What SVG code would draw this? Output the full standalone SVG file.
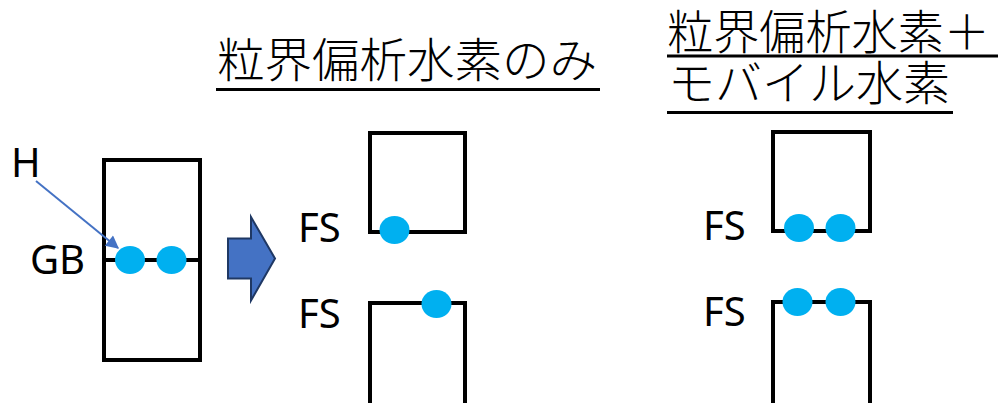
<svg xmlns="http://www.w3.org/2000/svg" width="1000" height="403" viewBox="0 0 1000 403">
  <style>
    .box { fill: none; stroke: #000; stroke-width: 4; }
    .h { fill: #00B0F0; }
    .lat { font-family: "Noto Sans", "Open Sans", sans-serif; font-size: 40px; fill: #000; }
    .jp { font-family: "Noto Sans CJK JP", sans-serif; font-size: 47px; font-weight: 300; fill: #000; }
    .ul { stroke: #000; stroke-width: 3; }
  </style>
  <defs>
    <marker id="ah" viewBox="0 0 10 10" refX="9" refY="5" markerWidth="7.5" markerHeight="6.5" orient="auto" markerUnits="strokeWidth">
      <path d="M0,0 L10,5 L0,10 z" fill="#4472C4"/>
    </marker>
  </defs>

  <g id="title-left">
    <text class="jp" x="217" y="77" textLength="380" lengthAdjust="spacingAndGlyphs">粒界偏析水素のみ</text>
    <line class="ul" x1="216" y1="89.5" x2="600" y2="89.5"/>
  </g>
  <g id="title-right">
    <text class="jp" x="667" y="49" textLength="323" lengthAdjust="spacingAndGlyphs">粒界偏析水素＋</text>
    <line class="ul" x1="667" y1="56" x2="998" y2="56"/>
    <text class="jp" x="668" y="100" textLength="282" lengthAdjust="spacingAndGlyphs">モバイル水素</text>
    <line class="ul" x1="667" y1="112.5" x2="953" y2="112.5"/>
  </g>

  <g id="grain">
    <rect class="box" x="104" y="160" width="96" height="200"/>
    <line class="box" x1="104" y1="260" x2="200" y2="260"/>
    <ellipse class="h" cx="130" cy="260" rx="15" ry="14"/>
    <ellipse class="h" cx="171.5" cy="260" rx="15" ry="14"/>
    <text class="lat" x="11" y="177">H</text>
    <text class="lat" x="30" y="274">GB</text>
  </g>

  <g id="fs-left-top">
    <rect class="box" x="370" y="133" width="95" height="99"/>
    <ellipse class="h" cx="394.5" cy="230" rx="15" ry="14"/>
    <text class="lat" x="298" y="242">FS</text>
  </g>
  <g id="fs-left-bottom">
    <path class="box" d="M370,410 V303 H465 V410"/>
    <ellipse class="h" cx="436.5" cy="304" rx="15" ry="14"/>
    <text class="lat" x="298" y="328">FS</text>
  </g>

  <g id="fs-right-top">
    <rect class="box" x="773" y="132" width="97" height="99"/>
    <ellipse class="h" cx="799" cy="228" rx="15" ry="14"/>
    <ellipse class="h" cx="840.5" cy="228" rx="15" ry="14"/>
    <text class="lat" x="703" y="240">FS</text>
  </g>
  <g id="fs-right-bottom">
    <path class="box" d="M773,410 V302 H870 V410"/>
    <ellipse class="h" cx="797.5" cy="302" rx="15" ry="14"/>
    <ellipse class="h" cx="840.5" cy="302" rx="15" ry="14"/>
    <text class="lat" x="703" y="326">FS</text>
  </g>

  <g id="connectors">
    <line x1="36" y1="181" x2="118" y2="248" stroke="#4472C4" stroke-width="2" marker-end="url(#ah)"/>
    <path d="M228,238.5 H251 V217 L275,258.5 L251,300.5 V278.5 H228 Z" fill="#4472C4" stroke="#1F3864" stroke-width="2" stroke-linejoin="miter"/>
  </g>
</svg>
